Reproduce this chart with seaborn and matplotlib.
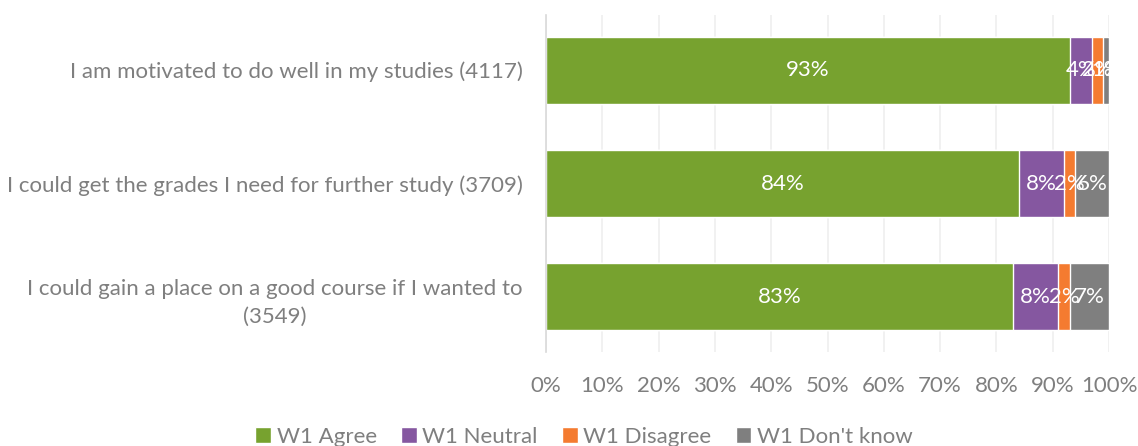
#!/usr/bin/env python3
"""Stacked horizontal bar chart of W1 agreement responses"""

import pandas as pd
import matplotlib
matplotlib.use("Agg")
import matplotlib.pyplot as plt
import seaborn as sns
from matplotlib.patches import Patch

# Data
questions = [
    "I am motivated to do well in my studies (4117)",
    "I could get the grades I need for further study (3709)",
    "I could gain a place on a good course if I wanted to\n(3549)",
]
series = ["W1 Agree", "W1 Neutral", "W1 Disagree", "W1 Don't know"]
agree = [93, 84, 83]
neutral = [4, 8, 8]
disagree = [2, 2, 2]
dont_know = [1, 6, 7]
colors = ["#77A22F", "#8557A0", "#F47B30", "#7F7F7F"]
text_grey = "#7F7F7F"

df = pd.DataFrame({"question": questions, "W1 Agree": agree,
                   "W1 Neutral": neutral, "W1 Disagree": disagree,
                   "W1 Don't know": dont_know})

sns.set_style("white")
plt.rcParams["font.family"] = ["Lato", "DejaVu Sans"]
fs = 16

fig = plt.figure(figsize=(11.38, 4.46), dpi=100)
ax = fig.add_axes([546 / 1138, 1 - 352 / 446, 563 / 1138, 337 / 446])

# Stack by drawing cumulative totals, largest first
cum = df[series].cumsum(axis=1)
for s, c in reversed(list(zip(series, colors))):
    sns.barplot(x=cum[s], y=df["question"], color=c, orient="h",
                width=0.59, saturation=1, ax=ax, zorder=3)

# Segment labels
for i in range(len(df)):
    left = 0
    for s in series:
        v = df[s][i]
        ax.text(left + v / 2, i, f"{v}%", color="white", ha="center",
                va="center", fontsize=fs, zorder=5)
        left += v

ax.set_xlim(0, 100)
ax.set_ylim(2.485, -0.485)
ax.set_xticks(range(0, 101, 10))
ax.set_xticklabels([f"{t}%" for t in range(0, 101, 10)])
ax.set_xlabel("")
ax.set_ylabel("")
ax.tick_params(axis="x", colors=text_grey, labelsize=fs, length=0, pad=17)
ax.tick_params(axis="y", colors=text_grey, labelsize=fs, length=0, pad=17)
for lab in ax.get_yticklabels():
    lab.set_multialignment("center")
    lab.set_linespacing(1.5)
ax.xaxis.grid(True, color="#EFEFEF", linewidth=1.2, zorder=0)
ax.yaxis.grid(False)
for sp in ["top", "right", "bottom"]:
    ax.spines[sp].set_visible(False)
ax.spines["left"].set_color("#D9D9D9")
ax.spines["left"].set_linewidth(1.2)
ax.spines["left"].set_zorder(4)

handles = [Patch(facecolor=c, label=s) for s, c in zip(series, colors)]
fig.legend(handles=handles, loc="center", bbox_to_anchor=(584 / 1138, 1 - 437 / 446),
           ncol=4, frameon=False, fontsize=fs, labelcolor=text_grey,
           handlelength=0.7, handleheight=0.7, handletextpad=0.25, columnspacing=1.1)

fig.savefig("out.png", dpi=100)
